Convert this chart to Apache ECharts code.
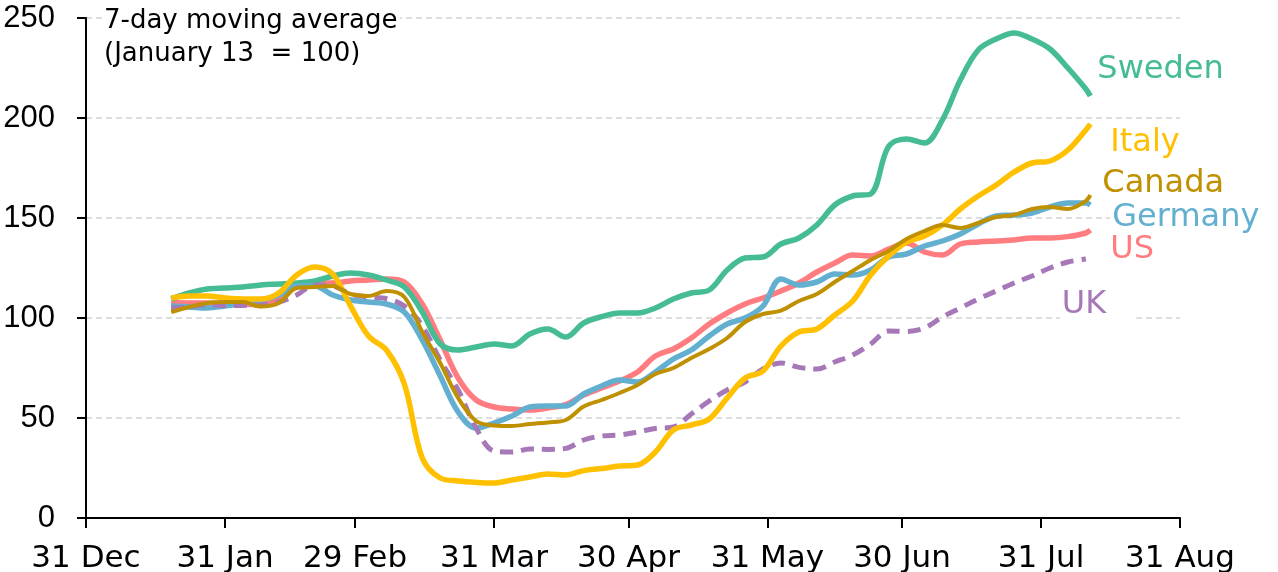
<!DOCTYPE html>
<html>
<head>
<meta charset="utf-8">
<script src="https://cdn.jsdelivr.net/npm/echarts@6/dist/echarts.min.js"></script>
<style>html,body{margin:0;padding:0;background:#fff}#c{width:1278px;height:572px}</style>
</head>
<body>
<div id="c"></div>
<script>
// Day offsets counted from 31 Dec 2019
const days = [19,23,27,31,35,39,43,47,51,55,59,63,67,71,75,79,83,87,91,95,99,103,107,111,115,119,123,127,131,135,139,143,147,151,155,159,163,167,171,175,179,183,187,191,195,199,203,207,211,215,219,223,224];
const tickDays = [0,31,60,91,121,152,182,213,244];
const tickLabels = ['31 Dec','31 Jan','29 Feb','31 Mar','30 Apr','31 May','30 Jun','31 Jul','31 Aug'];

const sweden = [109.5,112.5,114.5,115,115.5,116.5,117,117.5,118.5,121,122.5,121.5,119,115.5,103,87,84,85.5,87,86,92,94.5,90.5,97.5,100.7,102.5,102.5,105,109.5,112.5,114,124,130,130.5,137,140,146.5,156.5,161,162,185.7,189.5,187.5,199,219,234,239.5,242.5,239.5,234.5,225,214.5,211];
const italy = [110,111,111,110,109.5,109.5,112.5,121.5,125.5,122,106,91,84,67,30,20,18.5,17.8,17.5,19,20.5,22,21.5,23.7,24.7,26,26.5,33,44,46.5,49.5,60,70,73.5,86,93,94.5,101.5,108.5,121.5,131,138,141,146.5,154.5,161,166.5,173,177.5,178.5,184,194,197];
const canada = [103,105.5,107.5,108,108,105.7,107.5,115,115.5,116,112,111,113.5,110.5,93,77.5,60,48.5,46.3,46,47,47.8,49,55.7,59,62.5,66.5,72,75,80,84.5,90,98,102,103.7,108.5,112,118,123.5,129,133.5,139.5,143.5,146.5,145,147.5,150.5,151.5,154.5,155.5,154.5,158.5,161.5];
const germany = [106,105.5,105,106,107.5,109,111.5,116,116,111.5,109,108,107,103,89,71,53,45,47.5,51,55.5,56,56,62,66,69,68,73,79.5,84,91,97,100,106,119.5,116.5,118,122,121.5,124,130.5,132,136,138.5,142,147,151,151.5,152.5,155.5,157.5,157.5,156.5];
const us = [107.7,107.5,107.5,107,107,106.5,110,116,117.5,117.5,118.5,119,119.5,118,107,89,70,59,55.5,54.5,54,55,56.7,61.5,65,68.5,73,81,84.5,90,97,102.5,107,110,113.5,117.5,123,127.5,131.5,131,134.5,137.5,133,131.5,137,138,138.5,139,140,140,140.7,142.5,144];
const uk = [105,105.5,106.7,106.2,106.3,106.5,108,111.5,116.5,116,112,110.5,109.7,106,96,79,64,45,33.5,33,34.5,34.3,34.8,39,41,41.5,43,44.8,45.5,52,58.5,64,68,74.5,77.5,75.3,74.5,78,81.5,87,93.5,93.3,95,100.5,105,109.5,113.5,117.5,121,125,128,129.5,null];

const FONT = 'DejaVu Sans';
function pairs(vals){ return days.map((d,i)=>[d, vals[i]]).filter(p=>p[1]!==null); }
function mk(name, vals, color, width, offset, lineType, labelBg){
  const end = {show:true, formatter:name, color:color, fontFamily:FONT, fontSize:32, distance:0, offset:offset};
  if (labelBg) { end.backgroundColor = '#fff'; end.padding = labelBg; }
  return {
    name: name, type:'line', data: pairs(vals), showSymbol:false, symbol:'none', smooth:0.35,
    lineStyle:{color:color, width:width, type:lineType||'solid', cap:'butt'}, itemStyle:{color:color},
    endLabel:end,
    emphasis:{disabled:true}
  };
}

const chart = echarts.init(document.getElementById('c'), null, {renderer:'canvas'});
chart.setOption({
  animation:false,
  backgroundColor:'#fff',
  grid:{left:86, right:98, top:18, bottom:54, containLabel:false, outerBoundsMode:'none'},
  xAxis:{
    type:'value', min:0, max:244,
    axisLine:{show:true, lineStyle:{color:'#000', width:2}},
    axisTick:{show:true, customValues:tickDays, length:10, lineStyle:{color:'#000', width:2}},
    axisLabel:{customValues:tickDays, formatter:function(v){ const i=tickDays.indexOf(v); return i>=0?tickLabels[i]:''; },
      color:'#000', fontFamily:FONT, fontSize:31, margin:25},
    splitLine:{show:false}
  },
  yAxis:{
    type:'value', min:0, max:250, interval:50,
    axisLine:{show:true, lineStyle:{color:'#000', width:2}},
    axisTick:{show:true, length:9, lineStyle:{color:'#000', width:2}},
    axisLabel:{color:'#000', fontFamily:'Liberation Sans', fontSize:31, margin:31},
    splitLine:{show:true, lineStyle:{color:'#d4d4d4', width:1.5, type:[6,4]}}
  },
  graphic:[{type:'text', left:102, top:5, z:100,
    style:{text:'7-day moving average\n(January 13  = 100)', font:'26px "DejaVu Sans"', fill:'#000', lineHeight:33, backgroundColor:'#fff', padding:[0,2,0,2]}}],
  series:[
    mk('US', us, '#FF7C80', 5.5, [20,19.5]),
    mk('Sweden', sweden, '#45BC94', 5.5, [7,-26]),
    mk('Germany', germany, '#62AFD0', 5.5, [20,13], null, [0,0,0,2]),
    mk('UK', uk, '#A678B8', 5, [-26,46], [13,8], [0,30,0,2]),
    mk('Italy', italy, '#FFC000', 5.5, [20,19]),
    mk('Canada', canada, '#BF9000', 4, [12,-11])
  ]
});
</script>
</body>
</html>
